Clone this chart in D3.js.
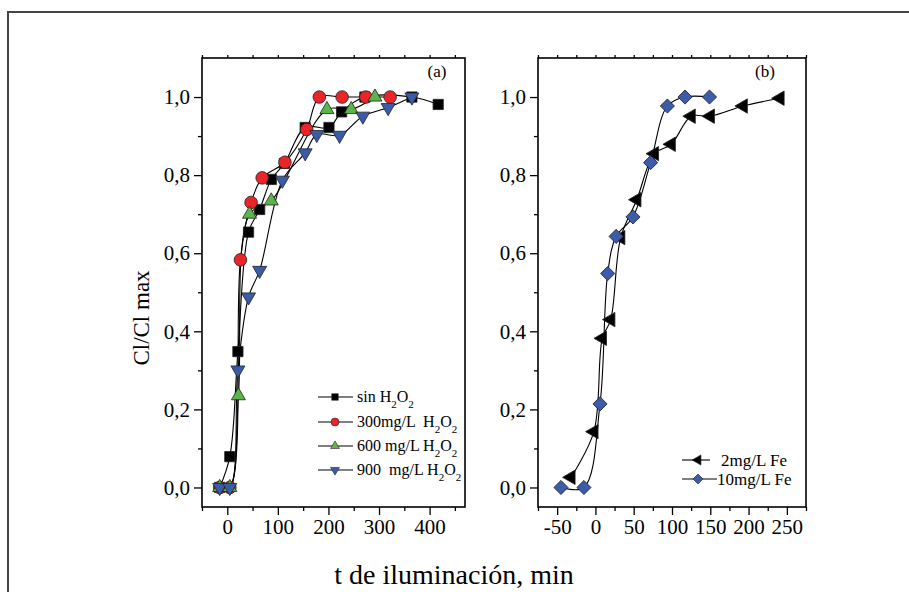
<!DOCTYPE html>
<html><head><meta charset="utf-8">
<script src="https://cdn.jsdelivr.net/npm/d3@7"></script>
<style>body{margin:0;background:#fff} text{font-family:"Liberation Serif","Times New Roman",Tinos,"DejaVu Serif",serif !important;fill:#000}</style>
</head><body><svg id="c" width="909" height="592" font-family="Liberation Serif, Times New Roman, serif"></svg>
<script>
// Panel (a): t (min) vs Cl/Cl max
const sinH2O2 = [[-15,0],[5,0.079],[21,0.348],[42,0.654],[64,0.712],[87,0.789],[113,0.83],[154,0.922],[201,0.922],[226,0.962],[272,1.0],[365,1.0],[417,0.981]];
const h300 = [[-15,0],[5,0],[26,0.583],[47,0.73],[69,0.793],[114,0.833],[157,0.917],[182,1.0],[227,1.0],[274,1.0],[322,1.0]];
const h600 = [[-15,0],[5,0],[22,0.235],[44,0.70],[87,0.734],[197,0.968],[245,0.968],[292,1.0]];
const h900 = [[-15,0],[5,0],[21,0.301],[42,0.488],[64,0.556],[109,0.787],[154,0.857],[177,0.904],[222,0.902],[268,0.951],[318,0.973],[365,1.0]];
// Panel (b)
const fe2 = [[-32,0.026],[-2,0.143],[9,0.382],[20,0.43],[33,0.64],[54,0.737],[77,0.855],[99,0.879],[125,0.951],[150,0.951],[193,0.977],[241,0.997]];
const fe10 = [[-45,0],[-15,0],[6,0.214],[16,0.548],[27,0.643],[49,0.693],[72,0.832],[94,0.977],[117,1.0],[149,1.0]];
// ticks
const xTicksA = [0,100,200,300,400];
const xMinorA = [-50,50,150,250,350,450];
const xTicksB = [-50,0,50,100,150,200,250];
const xMinorB = [-75,-25,25,75,125,175,225,275];
const yTicks = [0,0.2,0.4,0.6,0.8,1.0];
const yMinor = [0.1,0.3,0.5,0.7,0.9];
const legendA = ["sin H2O2","300mg/L  H2O2","600 mg/L H2O2","900  mg/L H2O2"];
const legendB = ["2mg/L Fe","10mg/L Fe"];

const FONT = '"Liberation Serif","Times New Roman",Tinos,serif';
const svg = d3.select("#c");
svg.append("path").attr("d","M8,592V12H909").attr("fill","none").attr("stroke","#444").attr("stroke-width",2);

const yS = d3.scaleLinear().domain([-0.05,1.1]).range([507,58]);
const xA = d3.scaleLinear().domain([-50,470]).range([202,465]);
const xB = d3.scaleLinear().domain([-75,275]).range([538,806]);
const fmt = d => d3.format(".1f")(d).replace(".",",");

function panel(x, ticks, minor, lab, lx){
  const g = svg.append("g");
  const [x0,x1] = x.range(); const [y0,y1] = yS.range();
  g.append("rect").attr("x",x0).attr("y",y1).attr("width",x1-x0).attr("height",y0-y1)
   .attr("fill","none").attr("stroke","#000").attr("stroke-width",1.6);
  const bx = g.append("g").attr("transform",`translate(0,${y0})`)
    .call(d3.axisBottom(x).tickValues(ticks).tickSize(8).tickSizeOuter(0).tickPadding(4).tickFormat(d => String(d)));
  bx.append("g").call(d3.axisBottom(x).tickValues(minor).tickSize(4).tickSizeOuter(0).tickFormat(""));
  g.append("g").attr("transform",`translate(0,${y1})`)
    .call(d3.axisTop(x).tickValues(ticks.concat(minor)).tickSize(3).tickSizeOuter(0).tickFormat(""));
  const ly = g.append("g").attr("transform",`translate(${x0},0)`)
    .call(d3.axisLeft(yS).tickValues(yTicks).tickSize(8).tickSizeOuter(0).tickPadding(4).tickFormat(fmt));
  ly.append("g").call(d3.axisLeft(yS).tickValues(yMinor).tickSize(4).tickSizeOuter(0).tickFormat(""));
  g.selectAll("g").attr("font-family",FONT).attr("font-size",21);
  g.selectAll(".domain").remove();
  g.selectAll(".tick line").attr("stroke","#000").attr("stroke-width",1.3);
  g.selectAll(".tick text").attr("font-family",FONT).style("font-size","21px");
  g.append("text").attr("x",lx).attr("y",77).attr("text-anchor","middle").attr("font-family",FONT).style("font-size","17px").text(lab);
  return g;
}
panel(xA, xTicksA, xMinorA, "(a)", 437);
panel(xB, xTicksB, xMinorB, "(b)", 765);

const sym = {
  square: d3.symbol().type(d3.symbolSquare),
  circle: d3.symbol().type(d3.symbolCircle),
  tri: d3.symbol().type(d3.symbolTriangle),
  diamond: d3.symbol().type(d3.symbolSquare)
};
const seriesA = [
  {d:sinH2O2, s:"square", size:105, fill:"#000", rot:0},
  {d:h300, s:"circle", size:125, fill:"#ea2529", rot:0},
  {d:h600, s:"tri", size:85, fill:"#5cb548", rot:0},
  {d:h900, s:"tri", size:85, fill:"#3a5ca8", rot:180}
];
const seriesB = [
  {d:fe2, s:"tri", size:90, fill:"#000", rot:-90},
  {d:fe10, s:"diamond", size:100, fill:"#3c5ba9", rot:45}
];
const line = x => d3.line().x(p=>x(p[0])).y(p=>yS(p[1])).curve(d3.curveCatmullRom.alpha(0.5));

function draw(series, x){
  const g = svg.append("g");
  series.forEach(s=>{
    g.append("path").datum(s.d).attr("d",line(x)).attr("fill","none").attr("stroke","#000").attr("stroke-width",1.1);
  });
  series.forEach(s=>{
    g.selectAll(null).data(s.d).enter().append("path")
      .attr("d",sym[s.s].size(s.size)())
      .attr("transform",p=>`translate(${x(p[0])},${yS(p[1])}) rotate(${s.rot})`)
      .attr("fill",s.fill).attr("stroke","#222").attr("stroke-width",0.8);
  });
}
draw(seriesA, xA);
draw(seriesB, xB);

function h2o2Text(t, str){
  const m = str.match(/^(.*?)H2O2$/);
  if(!m){ t.text(str); return; }
  t.append("tspan").text(m[1]+"H");
  t.append("tspan").attr("baseline-shift","sub").style("font-size","11px").text("2");
  t.append("tspan").text("O");
  t.append("tspan").attr("baseline-shift","sub").style("font-size","11px").text("2");
}
const legRowsA = [397,422,446,470];
legendA.forEach((lbl,i)=>{
  const s = seriesA[i]; const y = legRowsA[i];
  svg.append("line").attr("x1",318).attr("x2",353).attr("y1",y).attr("y2",y).attr("stroke","#000").attr("stroke-width",1.1);
  svg.append("path").attr("d",sym[s.s].size(s.size*0.4)()).attr("transform",`translate(335,${y}) rotate(${s.rot})`)
    .attr("fill",s.fill).attr("stroke","#222").attr("stroke-width",0.6);
  const t = svg.append("text").attr("x",357).attr("y",y+5).attr("font-family",FONT).style("font-size","16px").style("white-space","pre");
  h2o2Text(t,lbl);
});
const legRowsB = [460,479];
legendB.forEach((lbl,i)=>{
  const s = seriesB[i]; const y = legRowsB[i];
  svg.append("line").attr("x1",682).attr("x2",i===0?710:717).attr("y1",y).attr("y2",y).attr("stroke","#000").attr("stroke-width",1.1);
  svg.append("path").attr("d",sym[s.s].size(s.size*0.5)()).attr("transform",`translate(698,${y}) rotate(${s.rot})`)
    .attr("fill",s.fill).attr("stroke","#222").attr("stroke-width",0.6);
  svg.append("text").attr("x",i===0?721:717).attr("y",y+6).attr("font-family",FONT).style("font-size","17px").text(lbl);
});
svg.append("text").attr("transform","translate(149,318) rotate(-90)").attr("text-anchor","middle").attr("font-family",FONT).style("font-size","23px").text("Cl/Cl max");
svg.append("text").attr("x",454).attr("y",584).attr("text-anchor","middle").attr("font-family",FONT).style("font-size","28px").text("t de iluminación, min");
</script></body></html>
